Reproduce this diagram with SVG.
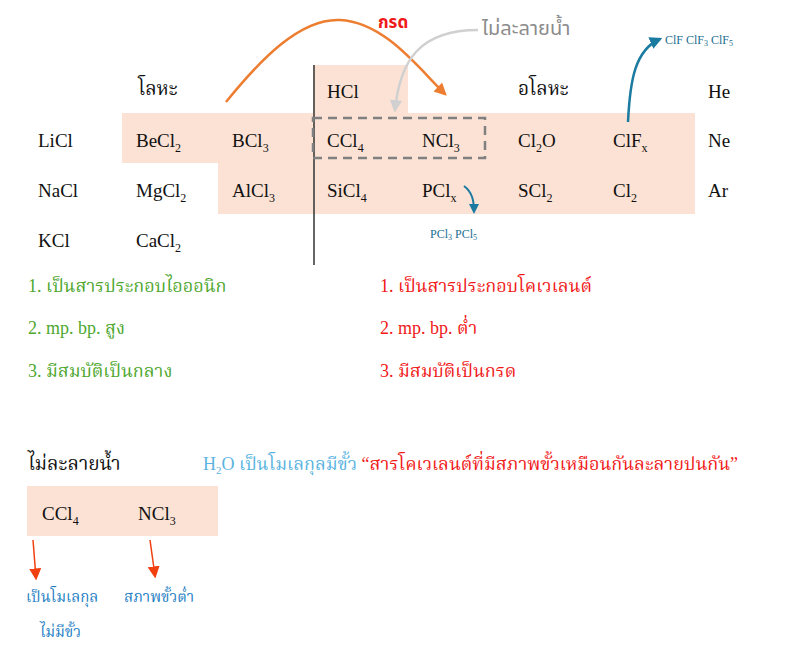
<svg xmlns="http://www.w3.org/2000/svg" width="800" height="659" viewBox="0 0 800 659">
<style>
text{font-family:"Liberation Serif","Noto Serif Thai","Noto Sans Thai",serif;font-size:19px;fill:#111}
.c{fill:#fbe2d5}
.sm{font-size:12px;fill:#1b6e8f}
.g{fill:#4ea72e;font-size:18px}
.r{fill:#f01818;font-size:18px}
.b{fill:#1f7fc4;font-size:15px}
</style>
<defs>
<marker id="ao" viewBox="0 0 10 10" refX="8" refY="5" markerWidth="5" markerHeight="5" orient="auto"><path d="M0,0L10,5L0,10z" fill="#ed7d31"/></marker>
<marker id="ag" viewBox="0 0 10 10" refX="8" refY="5" markerWidth="5" markerHeight="5" orient="auto"><path d="M0,0L10,5L0,10z" fill="#d0d0d0"/></marker>
<marker id="ab" viewBox="0 0 10 10" refX="8" refY="5" markerWidth="5" markerHeight="5" orient="auto"><path d="M0,0L10,5L0,10z" fill="#1b7aa0"/></marker>
<marker id="ar" viewBox="0 0 10 10" refX="8" refY="5" markerWidth="8" markerHeight="8" orient="auto"><path d="M0,0L10,5L0,10z" fill="#f04010"/></marker>
</defs>
<g id="cells">
<rect class="c" x="122" y="113" width="573" height="50"/>
<rect class="c" x="218" y="163" width="477" height="51"/>
<rect class="c" x="313" y="65" width="95" height="48"/>
<rect class="c" x="27" y="486" width="191" height="50"/>
</g>
<line x1="314" y1="65" x2="314" y2="265" stroke="#333" stroke-width="1.5"/>
<g id="table">
<text x="138" y="95">โลหะ</text><text x="518" y="95">อโลหะ</text>
<text x="327" y="98">HCl</text><text x="708" y="98">He</text>
<text x="38" y="147">LiCl</text>
<text x="136" y="147">BeCl<tspan font-size="12" dy="5">2</tspan></text>
<text x="232" y="147">BCl<tspan font-size="12" dy="5">3</tspan></text>
<text x="327" y="147">CCl<tspan font-size="12" dy="5">4</tspan></text>
<text x="422" y="147">NCl<tspan font-size="12" dy="5">3</tspan></text>
<text x="518" y="147">Cl<tspan font-size="12" dy="5">2</tspan><tspan dy="-5">O</tspan></text>
<text x="613" y="147">ClF<tspan font-size="12" dy="5">x</tspan></text>
<text x="708" y="147">Ne</text>
<text x="38" y="197">NaCl</text>
<text x="136" y="197">MgCl<tspan font-size="12" dy="5">2</tspan></text>
<text x="232" y="197">AlCl<tspan font-size="12" dy="5">3</tspan></text>
<text x="327" y="197">SiCl<tspan font-size="12" dy="5">4</tspan></text>
<text x="422" y="197">PCl<tspan font-size="12" dy="5">x</tspan></text>
<text x="518" y="197">SCl<tspan font-size="12" dy="5">2</tspan></text>
<text x="613" y="197">Cl<tspan font-size="12" dy="5">2</tspan></text>
<text x="708" y="197">Ar</text>
<text x="38" y="247">KCl</text>
<text x="136" y="247">CaCl<tspan font-size="12" dy="5">2</tspan></text>
</g>
<rect x="313" y="118" width="172" height="40" fill="none" stroke="#808080" stroke-width="2.5" stroke-dasharray="9,6"/>
<g id="connectors" fill="none">
<path d="M226,102 C260,60 300,18 340,20 C385,22 420,70 445,94" stroke="#ed7d31" stroke-width="2.5" marker-end="url(#ao)"/>
<path d="M478,30 C420,30 400,60 395,110" stroke="#d0d0d0" stroke-width="2.5" marker-end="url(#ag)"/>
<path d="M628,122 C630,80 635,50 660,39" stroke="#1b7aa0" stroke-width="2.5" marker-end="url(#ab)"/>
<path d="M464,186 C472,192 474,200 474,212" stroke="#1b7aa0" stroke-width="2" marker-end="url(#ab)"/>
<path d="M33,540 L36,578" stroke="#f04010" stroke-width="1.5" marker-end="url(#ar)"/>
<path d="M150,540 L155,576" stroke="#f04010" stroke-width="1.5" marker-end="url(#ar)"/>
</g>
<g id="labels">
<text x="378" y="28" style="fill:#f01818;font-weight:bold;font-size:17px;font-family:'Liberation Sans','Noto Sans Thai',sans-serif">กรด</text>
<text x="482" y="35" style="fill:#8c8c8c;font-size:20px;font-family:'Liberation Sans','Noto Sans Thai',sans-serif">ไม่ละลายน้ำ</text>
<text x="665" y="44" class="sm">ClF  ClF<tspan font-size="8" dy="2">3</tspan><tspan dy="-2"> ClF</tspan><tspan font-size="8" dy="2">5</tspan></text>
<text x="430" y="238" class="sm">PCl<tspan font-size="8" dy="2">3</tspan><tspan dy="-2"> PCl</tspan><tspan font-size="8" dy="2">5</tspan></text>
<text x="28" y="292" class="g">1. เป็นสารประกอบไอออนิก</text>
<text x="28" y="334" class="g">2. mp. bp. สูง</text>
<text x="28" y="377" class="g">3. มีสมบัติเป็นกลาง</text>
<text x="380" y="292" class="r">1. เป็นสารประกอบโคเวเลนต์</text>
<text x="380" y="334" class="r">2. mp. bp. ต่ำ</text>
<text x="380" y="377" class="r">3. มีสมบัติเป็นกรด</text>
<text x="28" y="470">ไม่ละลายน้ำ</text>
<text x="203" y="470" style="fill:#5bb4e0;font-size:18px">H<tspan font-size="11" dy="4">2</tspan><tspan dy="-4">O เป็นโมเลกุลมีขั้ว </tspan><tspan fill="#f01818">“สารโคเวเลนต์ที่มีสภาพขั้วเหมือนกันละลายปนกัน”</tspan></text>
<text x="42" y="520">CCl<tspan font-size="12" dy="5">4</tspan></text>
<text x="138" y="520">NCl<tspan font-size="12" dy="5">3</tspan></text>
<text x="26" y="602" class="b">เป็นโมเลกุล</text>
<text x="124" y="602" class="b">สภาพขั้วต่ำ</text>
<text x="40" y="637" class="b">ไม่มีขั้ว</text>
</g>
</svg>
